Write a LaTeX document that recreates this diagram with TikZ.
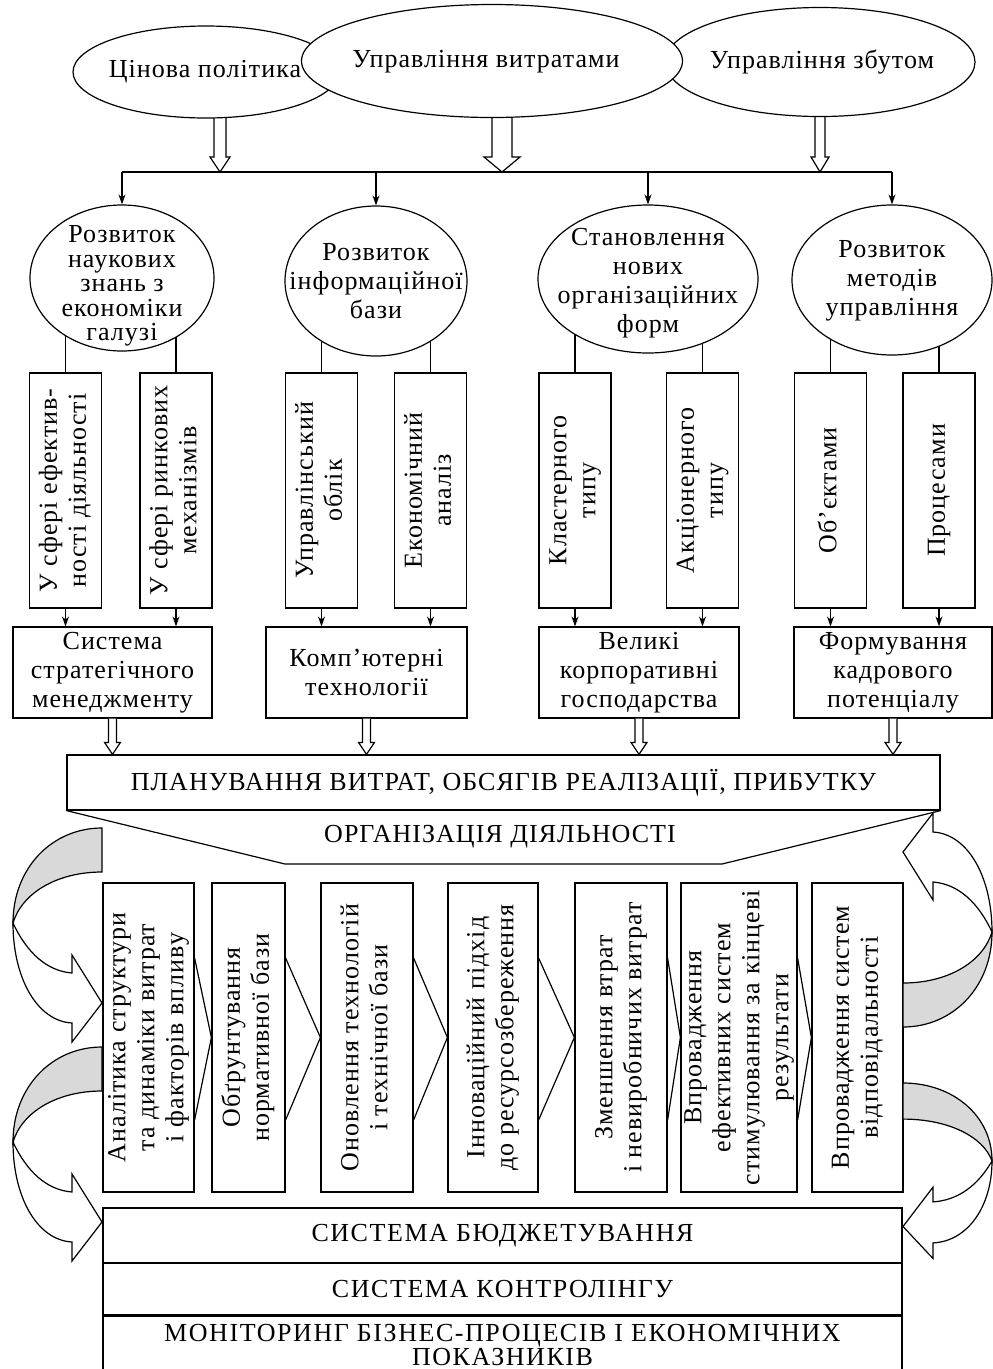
\documentclass[tikz,border=0pt]{standalone}
\usepackage{fontspec}
\usepackage{graphicx}
\setmainfont{Liberation Serif}[LetterSpace=4]
\newfontfamily\widefont[LetterSpace=6]{Liberation Serif}
\usetikzlibrary{shapes.geometric,arrows.meta,calc,backgrounds}

% rotated multi-line text for the tall boxes
\newcommand{\vtxt}[1]{\rotatebox{90}{\begin{tabular}{@{}c@{}}#1\end{tabular}}}
% hollow block arrow: from, to, half shaft, half head, head length
\newcommand{\hollow}[5]{%
  \draw[line width=1.2pt, fill=white] let \p1=#1, \p2=#2 in
    (\x1-#3pt,\y1) -- (\x1-#3pt,\y2+#5pt) -- (\x1-#4pt,\y2+#5pt) -- (\x1,\y2)
    -- (\x1+#4pt,\y2+#5pt) -- (\x1+#3pt,\y2+#5pt) -- (\x1+#3pt,\y1);}

\tikzset{
  bendarrow/.pic={
    \filldraw[fill=gray!30] (0,0) .. controls (-50,0) and (-89,40) .. (-89,95)
      .. controls (-80,65) and (-45,44) .. (0,44) -- cycle;
    \filldraw[fill=white] (-89,95) .. controls (-75,125) and (-55,143) .. (-30,145)
      -- (-30,127) -- (0,175) -- (-30,214) -- (-30,195)
      .. controls (-65,193) and (-89,150) .. (-89,95) -- cycle;
  }
}

\begin{document}
\begin{tikzpicture}[x=1pt, y=-1pt, line width=1.2pt,
  font=\fontsize{26}{29}\selectfont,
  oval/.style={draw, ellipse, fill=white, inner sep=0pt},
  ovaltext/.style={align=center, font=\fontsize{26}{29}\selectfont},
  vbox/.style={draw, minimum width=72, minimum height=235, inner sep=0pt},
  wbox/.style={draw, minimum height=91, align=center, inner sep=0pt},
  mbox/.style={draw, minimum height=309, inner sep=0pt},
  stack/.style={draw, minimum width=799, inner sep=0pt, align=center,
    font=\widefont\fontsize{26}{22}\selectfont},
  tip/.style={-{Stealth[length=10pt,width=7pt]}}]
\useasboundingbox (0,0) rectangle (993,1369);

% top ellipses
\node[oval, minimum width=266, minimum height=92] (price) at (206,72) {};
\node[oval, minimum width=310, minimum height=109] (sales) at (820,62) {};
\node[oval, minimum width=381, minimum height=113] (costs) at (492,61) {};
\node (pricet) at (205,72) {Цінова політика};
\node (costst) at (486,62) {Управління витратами};
\node (salest) at (822,62) {Управління збутом};

\coordinate (bus) at (0,172);
\coordinate (chevtop) at (0,958);
\coordinate (chevbot) at (0,1120);

% second row ellipses
\node[oval, minimum width=184, minimum height=146] (sci) at (122,278) {};
\node[oval, minimum width=182, minimum height=150] (info) at (376,281) {};
\node[oval, minimum width=220, minimum height=148] (org) at (648,279) {};
\node[oval, minimum width=200, minimum height=150] (meth) at (892,280) {};
\node[ovaltext, font=\fontsize{26}{24.5}\selectfont] (scit) at (122,286) {Розвиток\\наукових\\знань з\\економіки\\галузі};
\node[ovaltext] (infot) at (376,281) {Розвиток\\інформаційної\\бази};
\node[ovaltext] (orgt) at (648,283) {Становлення\\нових\\організаційних\\форм};
\node[ovaltext] (metht) at (892,281) {Розвиток\\методів\\управління};

\draw (sci.north |- bus) -- (meth.north |- bus);
\foreach \e in {sci,info,org,meth}
  \draw[tip] (\e.north |- bus) -- (\e.north);

% tall boxes
\node[vbox] (v1) at (65.5,490.5) {\vtxt{У сфері ефектив-\\ності діяльності}};
\node[vbox] (v2) at (176,490.5) {\vtxt{У сфері ринкових\\механізмів}};
\node[vbox] (v3) at (321.5,490.5) {\vtxt{Управлінський\\облік}};
\node[vbox] (v4) at (430.5,490.5) {\vtxt{Економічний\\аналіз}};
\node[vbox] (v5) at (575,490.5) {\vtxt{Кластерного\\типу}};
\node[vbox] (v6) at (702.5,490.5) {\vtxt{Акціонерного\\типу}};
\node[vbox] (v7) at (830.5,490.5) {\vtxt{Об’єктами}};
\node[vbox] (v8) at (939,490.5) {\vtxt{Процесами}};

% result boxes
\node[wbox, minimum width=199] (strat) at (112.5,672.5) {Система\\стратегічного\\менеджменту};
\node[wbox, minimum width=201] (comp) at (366.5,672.5) {Комп’ютерні\\технології};
\node[wbox, minimum width=200] (corp) at (639,672.5) {Великі\\корпоративні\\господарства};
\node[wbox, minimum width=198] (staff) at (893,672.5) {Формування\\кадрового\\потенціалу};

\foreach \v/\r in {v1/strat,v2/strat,v3/comp,v4/comp,v5/corp,v6/corp,v7/staff,v8/staff}
  \draw[tip] (\v.south) -- (\v.south |- \r.north);

\begin{scope}[on background layer]
  \hollow{(220,0 |- price.center)}{(220,0 |- bus)}{6}{10}{15}
  \hollow{(502,0 |- costs.center)}{(502,0 |- bus)}{10}{18}{15}
  \hollow{(820,0 |- sales.center)}{(820,0 |- bus)}{5}{9}{15}
  \foreach \e/\a/\b in {sci/v1/v2,info/v3/v4,org/v5/v6,meth/v7/v8} {
    \draw[line width=1.2pt] (\a.north) -- (\a.north |- \e.center);
    \draw[line width=1.2pt] (\b.north) -- (\b.north |- \e.center);
  }
\end{scope}

% planning and organisation
\node[draw, minimum width=873, minimum height=55, inner sep=0pt] (plan) at (503.5,782.5)
  {ПЛАНУВАННЯ ВИТРАТ, ОБСЯГІВ РЕАЛІЗАЦІЇ, ПРИБУТКУ};
\foreach \r in {strat,comp,corp,staff}
  \hollow{(\r.south)}{(\r.south |- plan.north)}{4}{8}{12}
\coordinate (fl) at (285,864);
\coordinate (fr) at (722,864);
\draw (plan.south west) -- (fl) -- (fr) -- (plan.south east);
\node (orgact) at (500,837) {ОРГАНІЗАЦІЯ ДІЯЛЬНОСТІ};

% chain of measures
\node[mbox, minimum width=91] (m1) at (148.5,1037.5) {\vtxt{Аналітика структури\\та динаміки витрат\\і факторів впливу}};
\node[mbox, minimum width=73] (m2) at (248.5,1037.5) {\vtxt{Обґрунтування\\нормативної бази}};
\node[mbox, minimum width=92] (m3) at (367,1037.5) {\vtxt{Оновлення технологій\\і технічної бази}};
\node[mbox, minimum width=90] (m4) at (493,1037.5) {\vtxt{Інноваційний підхід\\до ресурсозбереження}};
\node[mbox, minimum width=92] (m5) at (621,1037.5) {\vtxt{Зменшення втрат\\і невиробничих витрат}};
\node[mbox, minimum width=110] (m6) at (739,1037.5) {\vtxt{Впровадження\\ефективних систем\\стимулювання за кінцеві\\результати}};
\node[mbox, minimum width=91] (m7) at (857.5,1037.5) {\vtxt{Впровадження систем\\відповідальності}};
\foreach \a/\b in {m1/m2,m2/m3,m3/m4,m4/m5,m5/m6,m6/m7}
  \draw (\a.east |- chevtop) -- (\b.west) -- (\a.east |- chevbot);

% curved arrows
\pic at (102,828) {bendarrow};
\pic at (102,1047) {bendarrow};
\pic[rotate=180] at (903,1027) {bendarrow};
\pic[xscale=-1, yscale=0.82] at (903,1083) {bendarrow};

% bottom stack
\node[stack, minimum height=55] (budget) at (502.5,1235.5) {СИСТЕМА БЮДЖЕТУВАННЯ};
\node[stack, minimum height=52] (control) at (502.5,1289) {СИСТЕМА КОНТРОЛІНГУ};
\node[stack, minimum height=58, anchor=north] (monitor) at (control.south)
  {МОНІТОРИНГ БІЗНЕС-ПРОЦЕСІВ І ЕКОНОМІЧНИХ\\ПОКАЗНИКІВ};
\end{tikzpicture}
\end{document}
